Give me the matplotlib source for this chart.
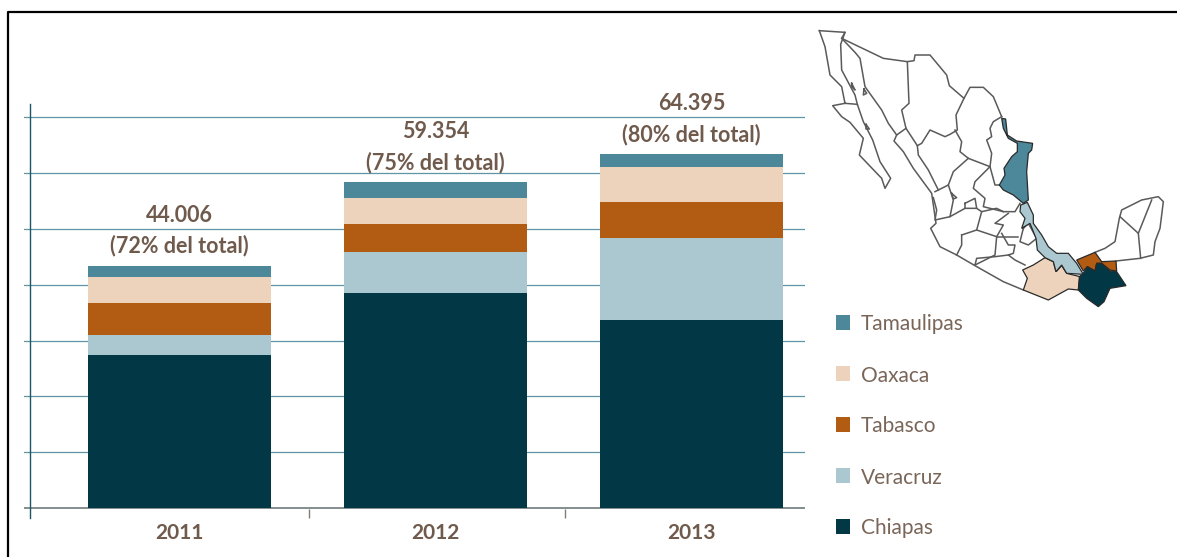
import numpy as np
import matplotlib.pyplot as plt
from matplotlib.patches import Polygon, Rectangle

plt.rcParams['font.family'] = ['Lato', 'DejaVu Sans']

# Data
years = ['2011', '2012', '2013']
states = ['Chiapas', 'Veracruz', 'Tabasco', 'Oaxaca', 'Tamaulipas']
chiapas = [27400, 38500, 33700]
veracruz = [3600, 7350, 14700]
tabasco = [5750, 5000, 6450]
oaxaca = [4650, 4650, 6250]
tamaulipas = [2000, 2850, 2300]
series = [chiapas, veracruz, tabasco, oaxaca, tamaulipas]
colors = ['#023745', '#abc8d1', '#b25b12', '#edd3bc', '#4c8899']
totals = ['44.006', '59.354', '64.395']
shares = ['(72% del total)', '(75% del total)', '(80% del total)']

# Map shapes (x, y in a 3x crop of the map area)
tamaulipas_map = [(605, 310), (617, 312), (622, 360), (650, 378), (698, 385), (695, 405), (685, 415), (680, 470),
                  (685, 555), (670, 565), (640, 540), (610, 525), (598, 510), (615, 480), (612, 460), (635, 425),
                  (652, 410), (652, 385), (625, 370), (610, 340)]
veracruz_map = [(662, 570), (682, 562), (700, 600), (700, 625), (725, 660), (745, 695), (770, 715), (805, 715),
                (830, 745), (850, 778), (800, 775), (785, 750), (768, 770), (760, 740), (735, 728), (712, 705),
                (708, 670), (690, 625), (665, 640), (675, 610), (660, 590)]
tabasco_map = [(830, 735), (885, 712), (905, 740), (948, 738), (950, 768), (930, 765), (905, 745), (890, 745),
               (885, 768), (862, 755), (850, 768)]
chiapas_map = [(850, 775), (862, 755), (885, 768), (890, 745), (905, 745), (930, 768), (950, 770), (978, 812),
               (930, 820), (912, 860), (895, 875), (860, 850), (835, 825), (838, 785)]
oaxaca_map = [(735, 728), (760, 740), (768, 770), (785, 752), (800, 775), (840, 785), (835, 825), (805, 822),
              (745, 855), (670, 825), (682, 790), (668, 765), (700, 750)]
filled_map = [oaxaca_map, veracruz_map, tamaulipas_map, tabasco_map, chiapas_map]
filled_colors = ['#edd3bc', '#abc8d1', '#4c8899', '#b25b12', '#023745']

border_lines = [
    # north coast and border
    [(58, 47), (135, 52), (125, 70), (250, 130), (322, 140), (342, 137), (345, 120), (390, 120), (440, 180), (448, 212),
     (492, 250), (510, 217), (550, 217), (580, 245), (605, 305)],
    # Baja California
    [(58, 47), (75, 95), (90, 180), (125, 215), (135, 265), (98, 272), (125, 305), (150, 322), (190, 370), (178, 420),
     (245, 490), (255, 520), (272, 490), (240, 440), (218, 375), (190, 320), (172, 268), (135, 265)],
    [(135, 52), (122, 88), (125, 165), (165, 240), (172, 268)],
    # Pacific coast
    [(125, 70), (165, 112), (180, 130), (195, 215), (245, 285), (265, 325), (290, 360), (282, 378), (310, 410),
     (340, 460), (395, 535), (408, 625), (392, 640), (420, 695), (470, 720), (525, 752), (610, 800), (670, 825)],
    # Sonora, Chihuahua, Coahuila, Durango
    [(322, 140), (327, 265), (305, 285), (318, 340), (290, 360)],
    [(318, 340), (352, 392), (355, 420), (385, 465), (415, 525)],
    [(492, 250), (468, 300), (472, 345), (450, 358), (435, 365), (390, 345), (365, 385), (352, 392)],
    [(465, 345), (485, 380), (480, 410), (505, 430), (570, 455)],
    [(605, 305), (580, 320), (570, 340), (575, 365), (560, 375), (575, 415), (570, 455), (585, 510), (598, 510)],
    # Centre
    [(505, 430), (460, 470), (445, 510), (405, 530)],
    [(570, 455), (525, 500), (520, 520), (555, 550), (550, 575), (610, 590), (645, 590), (660, 565)],
    [(400, 548), (410, 585), (405, 615), (450, 605), (460, 555), (445, 510)],
    [(495, 565), (525, 550), (530, 580), (495, 580), (495, 565)],
    [(450, 605), (495, 580)],
    [(485, 660), (530, 645), (590, 665), (585, 720), (525, 750)],
    [(470, 720), (485, 690), (485, 660)],
    [(530, 645), (545, 590), (530, 580)],
    [(545, 590), (590, 580), (610, 590)],
    [(590, 665), (610, 630), (585, 625), (625, 595)],
    [(590, 665), (655, 665)],
    [(605, 655), (625, 690), (645, 690), (640, 715), (625, 720), (645, 735), (675, 750)],
    [(525, 750), (530, 730), (585, 725), (625, 720)],
    [(670, 640), (685, 625), (710, 670), (685, 690), (660, 680), (670, 640)],
    # Yucatan
    [(885, 712), (915, 700), (945, 680), (958, 610), (965, 585), (1025, 555), (1075, 545), (1090, 560), (1080, 640),
     (1065, 680), (1060, 720), (1020, 730), (948, 738)],
    [(960, 605), (1015, 655), (1055, 555)],
    [(1015, 655), (1022, 730)],
    # islands
    [(155, 205), (165, 225), (155, 215), (155, 205)],
    [(192, 222), (200, 235), (190, 240), (192, 222)],
    [(198, 328), (208, 342), (198, 342), (198, 328)],
    [(455, 535), (470, 548), (460, 552), (455, 535)],
]


def map_xy(points):
    return [(800 + px / 3, 15 + py / 3) for px, py in points]


fig = plt.figure(figsize=(11.77, 5.57), dpi=100, facecolor='white')

# Bars
ax = fig.add_axes([24 / 1177, 1 - 518 / 557, (805 - 24) / 1177, (518 - 104) / 557])
x = np.arange(len(years))
bottom = np.zeros(len(years))
for values, color, state in zip(series, colors, states):
    ax.bar(x, values, width=183 / 256, bottom=bottom, color=color, label=state, zorder=3)
    bottom += np.array(values)

ax.set_xlim((24 - 179.5) / 256, (805 - 179.5) / 256)
ax.set_ylim(-1790, 72400)
ax.set_yticks(np.arange(10000, 80000, 10000))
ax.set_yticklabels([])
ax.tick_params(axis='y', length=0)
ax.grid(axis='y', color='#5f95a5', linewidth=0.9, zorder=1)
ax.axhline(0, color='#6f7a7c', linewidth=1.2, zorder=2)

for side in ['top', 'right', 'bottom']:
    ax.spines[side].set_visible(False)
ax.spines['left'].set_position(('data', (30 - 179.5) / 256))
ax.spines['left'].set_color('#1b5566')
ax.spines['left'].set_linewidth(1)

ax.set_xticks([0.506, 1.506])
ax.set_xticklabels([])
ax.tick_params(axis='x', direction='in', length=6.5, width=1, color='#8a7a70')
ax.set_xticks(x, minor=True)
ax.set_xticklabels(years, minor=True, fontsize=15, fontweight='bold', color='#6f5a4c')
ax.tick_params(axis='x', which='minor', length=0, pad=3.5)

for i in range(len(years)):
    top = sum(s[i] for s in series)
    ax.annotate(shares[i], (x[i], top), xytext=(0, 6.5), textcoords='offset points', ha='center', va='bottom',
                fontsize=15.5, fontweight='bold', color='#6f5a4c', zorder=5)
    ax.annotate(totals[i], (x[i], top), xytext=(0, 29), textcoords='offset points', ha='center', va='bottom',
                fontsize=15.5, fontweight='bold', color='#6f5a4c', zorder=5)

# Overlay in picture pixels: frame, map and legend
over = fig.add_axes([0, 0, 1, 1], facecolor='none')
over.set_xlim(0, 1177)
over.set_ylim(557, 0)
over.axis('off')

over.plot([7.5, 7.5, 1177], [557, 12, 12], color='black', linewidth=1.6)

for line in border_lines:
    pts = np.array(map_xy(line))
    over.plot(pts[:, 0], pts[:, 1], color='#5a5a5a', linewidth=1.1, solid_joinstyle='round')
for shape, color in zip(filled_map, filled_colors):
    over.add_patch(Polygon(map_xy(shape), closed=True, facecolor=color, edgecolor='#2a2a2a', linewidth=0.9, zorder=4))

legend_y = [323, 374, 425, 476, 527]
for state, color, ly in zip(states[::-1], colors[::-1], legend_y):
    over.add_patch(Rectangle((836, ly - 8), 14, 15, facecolor=color, edgecolor='none'))
    over.text(861, ly + 1.5, state, fontsize=15, color='#7a6659', va='center', ha='left')

fig.savefig('out.png', dpi=100)
